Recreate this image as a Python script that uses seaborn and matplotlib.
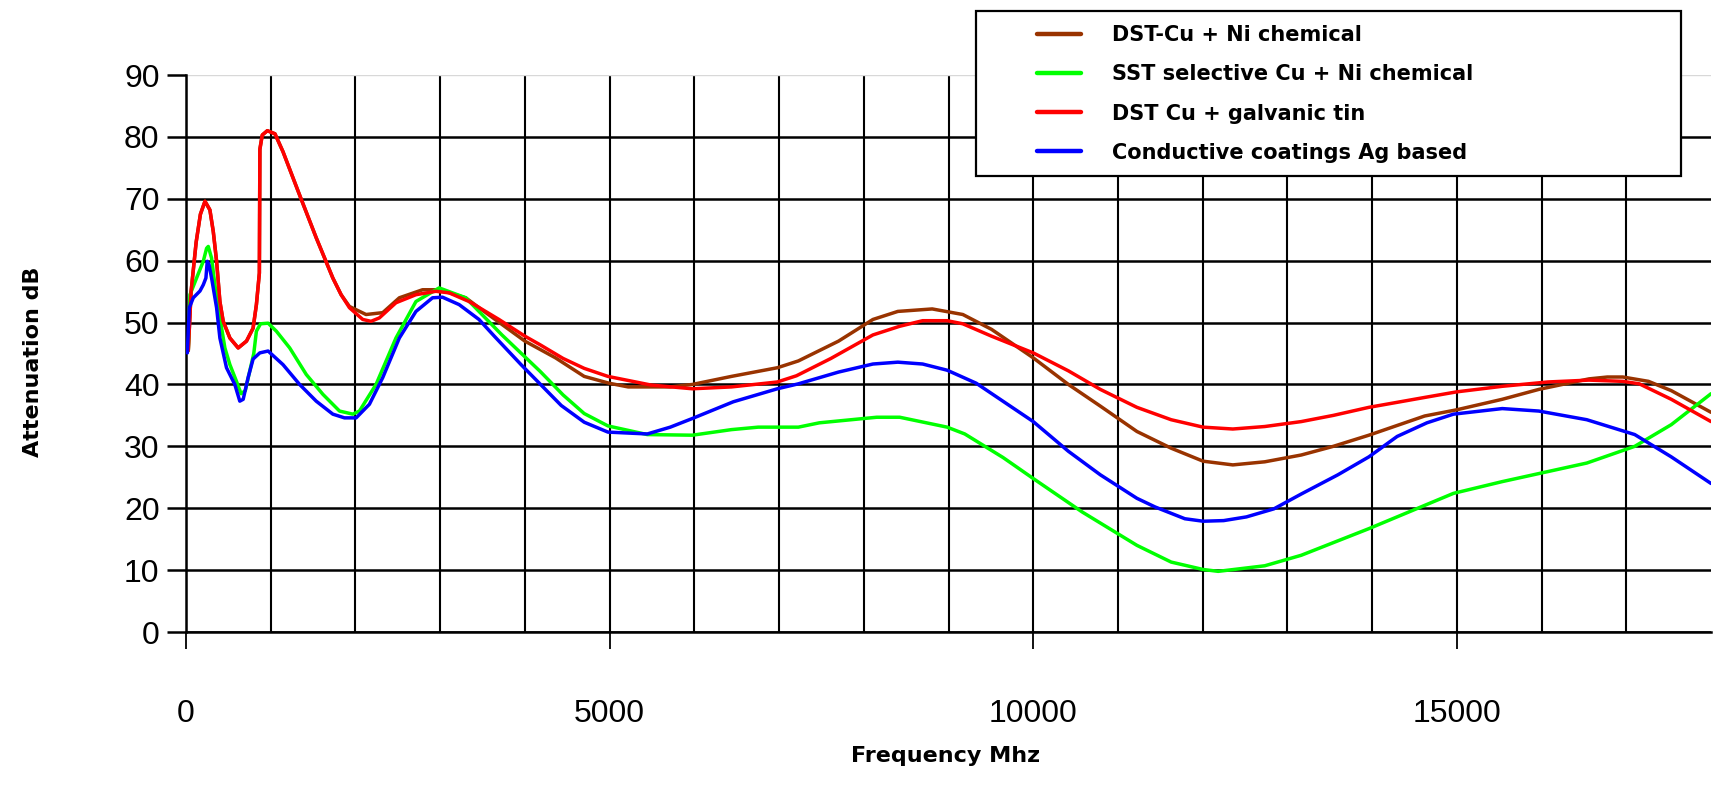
import numpy as np
import pandas as pd
import matplotlib
matplotlib.use("Agg")
import matplotlib.pyplot as plt
from matplotlib.ticker import FixedLocator
from matplotlib.patches import Rectangle
import seaborn as sns

# ---- data ----
series_names = ["DST-Cu + Ni chemical", "SST selective Cu + Ni chemical",
                "DST Cu + galvanic tin", "Conductive coatings Ag based"]

brown_f = [27, 60, 120, 170, 224, 282, 322, 361, 400, 439, 518, 616, 714, 792, 831, 866, 872, 900, 960,
           1050, 1145, 1341, 1537, 1733, 1831, 1929, 2125, 2322, 2518, 2792, 2988, 3302, 3458, 3729,
           4000, 4361, 4700, 4993, 5219, 5716, 5977, 6438, 6980, 7228, 7702, 8108, 8402, 8808, 9169,
           9508, 10000, 10415, 10792, 11224, 11628, 12005, 12356, 12733, 13164, 13542, 13962, 14620,
           14997, 15536, 15968, 16560, 16776, 16960, 17262, 17531, 18000]
brown_db = [45.5, 55, 63, 67.5, 69.6, 68.2, 64.7, 59.9, 53.4, 50.2, 47.5, 45.9, 47, 49.1, 52.9, 58, 78, 80.3, 81,
            80.5, 77.6, 70.6, 63.7, 57.2, 54.5, 52.6, 51.3, 51.6, 54, 55.3, 55.3, 54, 52.4, 49.7,
            47, 44.3, 41.3, 40.2, 39.6, 39.6, 40, 41.3, 42.7, 43.8, 47, 50.5, 51.8, 52.2, 51.3,
            48.9, 44.3, 40, 36.5, 32.4, 29.7, 27.6, 27, 27.5, 28.6, 30, 31.8, 34.9,
            35.9, 37.6, 39.2, 40.9, 41.2, 41.2, 40.5, 39, 35.5]

green_f = [27, 47, 125, 204, 243, 263, 302, 341, 400, 459, 518, 596, 650, 700, 753, 800, 831, 880, 969,
           1067, 1224, 1420, 1616, 1812, 1969, 2047, 2243, 2478, 2714, 2988, 3302, 3458, 3729, 4181,
           4451, 4700, 4980, 5445, 5977, 6438, 6754, 7228, 7476, 8153, 8424, 8984, 9192, 9643, 10000,
           10577, 11224, 11628, 12005, 12183, 12733, 13164, 13962, 14960, 15536, 15968, 16534, 17100,
           17531, 18000]
green_db = [45.5, 54.5, 57.2, 59.9, 62, 62.3, 60.4, 56.1, 50.8, 45.9, 43.2, 40.5, 38.5, 39, 42.2, 45, 48.6, 49.8, 49.9,
            48.6, 45.9, 41.6, 38.4, 35.7, 35.2, 35.7, 40, 47.5, 53.4, 55.6, 54, 51.8, 48, 42.1,
            38.3, 35.3, 33.3, 31.9, 31.8, 32.7, 33.1, 33.1, 33.8, 34.7, 34.7, 33.1, 32, 28.2, 24.8,
            19.4, 14, 11.3, 10.1, 9.8, 10.7, 12.4, 16.7, 22.4, 24.3, 25.6, 27.3, 30,
            33.5, 38.5]

red_f = [27, 60, 120, 170, 224, 282, 322, 361, 400, 439, 518, 616, 714, 792, 831, 866, 872, 900, 960,
         1050, 1145, 1341, 1537, 1733, 1831, 1929, 2086, 2184, 2282, 2478, 2714, 2949, 3106, 3341,
         3694, 4000, 4181, 4451, 4700, 4980, 5490, 5977, 6438, 6980, 7205, 7612, 8108, 8424, 8695,
         8984, 9169, 9508, 10000, 10415, 10792, 11224, 11628, 12005, 12356, 12733, 13164, 13542,
         13962, 14620, 14997, 15536, 16075, 16560, 16960, 17154, 17531, 18000]
red_db = [45.5, 55, 63, 67.5, 69.6, 68.2, 64.7, 59.9, 53.4, 50.2, 47.5, 45.9, 47, 49.1, 52.9, 58, 78, 80.3, 81,
          80.5, 77.6, 70.6, 63.7, 57.2, 54.5, 52.4, 50.5, 50.2, 50.75, 53.2, 54.5, 55.05, 54.8, 53.4,
          50.5, 47.8, 46.4, 44.2, 42.6, 41.3, 39.9, 39.3, 39.6, 40.4, 41.4, 44.2, 48, 49.4, 50.3,
          50.3, 49.8, 47.8, 45.1, 42.2, 39.2, 36.3, 34.3, 33.1, 32.8, 33.2, 34, 35,
          36.3, 37.9, 38.8, 39.7, 40.4, 40.7, 40.5, 40.1, 37.6, 34]

blue_f = [16, 39, 86, 165, 204, 235, 251, 271, 302, 361, 400, 478, 576, 635, 675, 733, 792, 871, 969,
          1145, 1341, 1537, 1733, 1871, 2008, 2165, 2322, 2518, 2714, 2910, 3027, 3224, 3458, 3639,
          3955, 4429, 4700, 4980, 5445, 5716, 5977, 6460, 6980, 7228, 7702, 8108, 8402, 8695, 8984,
          9327, 10000, 10415, 10792, 11224, 11439, 11790, 12005, 12248, 12517, 12841, 13164, 13596,
          13962, 14296, 14647, 14960, 15536, 15968, 16534, 17100, 17531, 18000]
blue_db = [45.1, 52.4, 54, 55.1, 56.1, 57.2, 59.9, 59.4, 57.2, 52.4, 47.5, 42.7, 40, 37.3, 37.6, 41.1, 44.1, 45.1, 45.4,
           43.2, 40, 37.3, 35.2, 34.6, 34.6, 36.8, 41.1, 47.5, 51.8, 54, 54.1, 52.9, 50.5, 47.8,
           43.2, 36.6, 33.9, 32.3, 32, 33.1, 34.5, 37.2, 39.3, 40.1, 42, 43.3, 43.6, 43.3, 42.3,
           40.2, 34, 29.2, 25.4, 21.6, 20.2, 18.3, 17.9, 18, 18.6, 19.9, 22.3, 25.4,
           28.3, 31.6, 33.8, 35.2, 36.1, 35.7, 34.3, 31.9, 28.3, 24]

x_ticks = [0, 5000, 10000, 15000]
x_grid = [1000, 2000, 3000, 4000, 6000, 7000, 8000, 9000, 11000, 12000, 13000, 14000, 16000, 17000]
y_ticks = [0, 10, 20, 30, 40, 50, 60, 70, 80, 90]
colors = ["#993300", "#00FF00", "#FF0000", "#0000FF"]

frames = []
for name, f, d in zip(series_names, [brown_f, green_f, red_f, blue_f],
                      [brown_db, green_db, red_db, blue_db]):
    frames.append(pd.DataFrame({"Frequency": f, "Attenuation": d, "Series": name}))
df = pd.concat(frames, ignore_index=True)

# ---- figure ----
sns.set_style("white")
plt.rcParams["font.family"] = ["Liberation Sans", "DejaVu Sans"]
for k in ["text.color", "axes.labelcolor", "xtick.color", "ytick.color"]:
    plt.rcParams[k] = "black"

fig = plt.figure(figsize=(17.2, 8.07), dpi=100)
ax = fig.add_axes([186 / 1720, 1 - 632 / 807, (1711 - 186) / 1720, (632 - 75) / 807])

sns.lineplot(data=df, x="Frequency", y="Attenuation", hue="Series",
             palette=dict(zip(series_names, colors)), hue_order=series_names,
             sort=False, estimator=None, linewidth=2.5, ax=ax, zorder=3, legend=True)

ax.set_xlim(0, 18000)
ax.set_ylim(0, 90)

ax.xaxis.set_major_locator(FixedLocator(x_ticks))
ax.xaxis.set_minor_locator(FixedLocator(x_grid))
ax.yaxis.set_major_locator(FixedLocator(y_ticks))
ax.set_xticklabels([str(v) for v in x_ticks])
ax.set_yticklabels([str(v) for v in y_ticks])

ax.grid(True, which="both", axis="x", color="black", linewidth=1.5)
ax.grid(True, which="major", axis="y", color="black", linewidth=1.8)
ygl = ax.get_ygridlines()
ygl[-1].set_color("#d8d8d8")
ygl[-1].set_linewidth(1.0)
ax.set_axisbelow(True)

for s in ["top", "right"]:
    ax.spines[s].set_visible(False)
for s in ["left", "bottom"]:
    ax.spines[s].set_color("black")
    ax.spines[s].set_linewidth(1.8)

ax.tick_params(axis="y", which="major", direction="out", length=14, width=1.8,
               labelsize=23, pad=5, left=True)
ax.tick_params(axis="x", which="major", direction="out", length=12, width=1.3,
               labelsize=23, pad=36, bottom=True)
ax.tick_params(axis="x", which="minor", length=0)

ax.set_xlabel("Frequency Mhz", fontsize=16, fontweight="bold", family=["DejaVu Sans"])
ax.set_ylabel("Attenuation dB", fontsize=16, fontweight="bold", family=["DejaVu Sans"])
ax.xaxis.set_label_coords(0.498, -0.205)
ax.yaxis.set_label_coords(-0.094, 0.485)

handles, labels = ax.get_legend_handles_labels()
ax.get_legend().remove()
for h in handles:
    h.set_linewidth(3.2)

# legend box (frame) drawn separately so the entries can sit where the reference has them
box = Rectangle((976 / 1720, 1 - 176 / 807), (1681 - 976) / 1720, (176 - 11) / 807,
                transform=fig.transFigure, facecolor="white", edgecolor="black",
                linewidth=1.6, zorder=5)
fig.add_artist(box)
leg = fig.legend(handles, labels, loc="center left",
                 bbox_to_anchor=(1037 / 1720, 1 - 94 / 807),
                 bbox_transform=fig.transFigure, borderaxespad=0, borderpad=0,
                 frameon=False, prop={"size": 15, "weight": "bold", "family": ["DejaVu Sans"]},
                 handlelength=2.1, handletextpad=1.5, labelspacing=0.92)
leg.set_zorder(6)

fig.savefig("out.png", dpi=100)
